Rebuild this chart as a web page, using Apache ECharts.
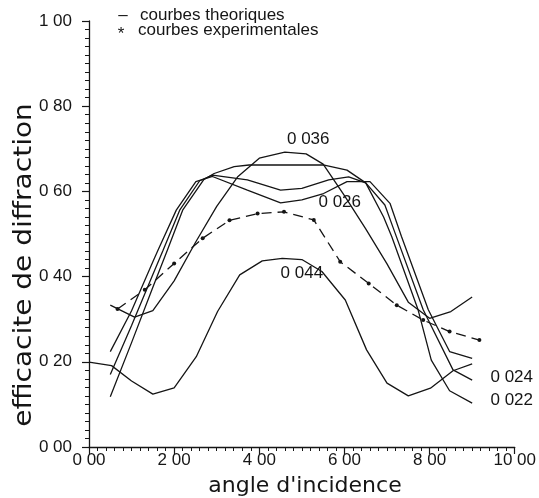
<!DOCTYPE html>
<html>
<head>
<meta charset="utf-8">
<style>
  html, body { margin: 0; padding: 0; background: #fff; }
  #chart { width: 539px; height: 498px; }
</style>
<script src="https://cdn.jsdelivr.net/npm/echarts@6/dist/echarts.min.js"></script>
</head>
<body>
<div id="chart"></div>
<script>
// courbes theoriques (angle, efficacite)
const angles022 = [0.5, 1.0, 1.5, 1.84, 2.2, 2.7, 2.94, 3.41, 3.76, 5.5, 6.06, 6.5, 6.92, 7.11, 7.73, 8.04, 8.47, 9.0]
const eff022 = [0.118, 0.245, 0.375, 0.462, 0.556, 0.628, 0.642, 0.658, 0.662, 0.662, 0.65, 0.62, 0.54, 0.494, 0.322, 0.204, 0.132, 0.103]

const angles024 = [0.5, 1.0, 1.5, 1.74, 2.13, 2.6, 2.9, 3.72, 4.5, 5.0, 5.63, 6.1, 6.5, 6.95, 7.19, 7.85, 8.55, 9.0]
const eff024 = [0.17, 0.285, 0.405, 0.462, 0.556, 0.625, 0.638, 0.627, 0.603, 0.607, 0.627, 0.634, 0.62, 0.568, 0.502, 0.322, 0.181, 0.157]

const angles026 = [0.5, 1.0, 1.5, 1.62, 2.05, 2.51, 2.9, 3.72, 4.5, 5.0, 5.51, 6.06, 6.6, 7.07, 7.34, 7.97, 8.47, 9.0]
const eff026 = [0.224, 0.32, 0.435, 0.462, 0.556, 0.623, 0.635, 0.603, 0.573, 0.58, 0.595, 0.623, 0.623, 0.572, 0.494, 0.322, 0.224, 0.208]

const angles036 = [0.5, 1.07, 1.5, 2.0, 2.5, 3.0, 3.5, 4.0, 4.6, 5.1, 5.5, 6.0, 6.5, 7.0, 7.5, 8.0, 8.5, 9.0]
const eff036 = [0.333, 0.305, 0.32, 0.39, 0.48, 0.565, 0.635, 0.678, 0.692, 0.688, 0.664, 0.59, 0.512, 0.43, 0.34, 0.302, 0.318, 0.352]

const angles044 = [0, 0.53, 1.0, 1.5, 2.0, 2.52, 3.02, 3.54, 4.07, 4.54, 5.0, 5.47, 6.02, 6.52, 7.0, 7.5, 8.02, 8.55, 9.0]
const eff044 = [0.199, 0.191, 0.155, 0.124, 0.139, 0.212, 0.318, 0.404, 0.437, 0.443, 0.44, 0.412, 0.345, 0.228, 0.15, 0.12, 0.138, 0.179, 0.195]

// courbe experimentale
const expAngles = [0.67, 1.31, 2.0, 2.67, 3.3, 3.96, 4.58, 5.28, 5.9, 6.57, 7.23, 7.85, 8.47, 9.17]
const expEff = [0.324, 0.369, 0.431, 0.49, 0.532, 0.548, 0.552, 0.533, 0.435, 0.384, 0.333, 0.298, 0.271, 0.251]

// etiquettes des courbes
const curveNames = ['0 036', '0 026', '0 044', '0 024', '0 022']
const labelAngles = [5.15, 5.89, 5.0, 9.93, 9.93]
const labelEff = [0.723, 0.574, 0.408, 0.163, 0.11]

const ink = '#151515'
const font = '"Liberation Sans", Arial, sans-serif'

const pairs = (xs, ys) => xs.map((x, i) => [x, ys[i]])
const fmt = v => v.toFixed(2).replace('.', ' ')

function theory(xs, ys) {
  return {
    type: 'line',
    data: pairs(xs, ys),
    showSymbol: false,
    lineStyle: { color: ink, width: 1.3 },
    silent: true,
  }
}

const axisCommon = {
  type: 'value',
  axisLine: { show: true, lineStyle: { color: ink, width: 1.3 } },
  axisTick: { show: true, length: 7, lineStyle: { color: ink, width: 1.2 } },
  minorTick: { show: true, splitNumber: 10, length: 4, lineStyle: { color: ink, width: 1 } },
  splitLine: { show: false },
  minorSplitLine: { show: false },
}

const chart = echarts.init(document.getElementById('chart'))

chart.setOption({
  animation: false,
  backgroundColor: '#fff',
  grid: { left: 89, right: 22, top: 21, bottom: 51 },
  xAxis: {
    ...axisCommon,
    min: 0,
    max: 10,
    interval: 2,
    axisLabel: { formatter: fmt, margin: 5, fontSize: 17, color: ink, fontFamily: font },
  },
  yAxis: {
    ...axisCommon,
    min: 0,
    max: 1,
    interval: 0.2,
    axisLabel: { formatter: fmt, margin: 17, fontSize: 17, color: ink, fontFamily: font },
  },
  series: [
    theory(angles022, eff022),
    theory(angles024, eff024),
    theory(angles026, eff026),
    theory(angles036, eff036),
    theory(angles044, eff044),
    {
      type: 'line',
      data: pairs(expAngles, expEff),
      symbol: 'circle',
      symbolSize: 4,
      itemStyle: { color: ink },
      lineStyle: { color: ink, width: 1.3, type: [10, 6] },
    },
    {
      type: 'scatter',
      symbolSize: 0,
      silent: true,
      itemStyle: { color: ink, opacity: 1 },
      data: curveNames.map((n, i) => ({ name: n, value: [labelAngles[i], labelEff[i]] })),
      label: {
        show: true,
        position: 'inside',
        formatter: '{b}',
        fontSize: 17,
        color: ink,
        opacity: 1,
        textBorderWidth: 0,
        fontFamily: font,
      },
    },
  ],
  graphic: [
    { type: 'text', x: 123, y: 15, style: { text: '–', fontSize: 17, fontFamily: font, fill: ink, align: 'center', verticalAlign: 'middle' } },
    { type: 'text', x: 140, y: 15, style: { text: 'courbes theoriques', fontSize: 17, fontFamily: font, fill: ink, align: 'left', verticalAlign: 'middle' } },
    { type: 'text', x: 121, y: 34, style: { text: '*', fontSize: 17, fontFamily: font, fill: ink, align: 'center', verticalAlign: 'middle' } },
    { type: 'text', x: 138, y: 30, style: { text: 'courbes experimentales', fontSize: 17, fontFamily: font, fill: ink, align: 'left', verticalAlign: 'middle' } },
    {
      type: 'text', x: 305, y: 486,
      style: { text: "angle d'incidence", fontSize: 22, fontFamily: '"DejaVu Sans", sans-serif', fill: ink, align: 'center', verticalAlign: 'middle' },
    },
    {
      type: 'text', x: 24, y: 265, rotation: Math.PI / 2, scaleX: 1.12,
      style: { text: 'efficacite de diffraction', fontSize: 25, fontFamily: '"DejaVu Sans", sans-serif', fill: ink, align: 'center', verticalAlign: 'middle' },
    },
  ],
})
</script>
</body>
</html>
